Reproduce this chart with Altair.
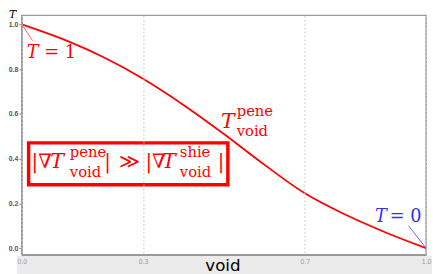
import altair as alt
import pandas as pd

# ---- data ----
void = [0.0, 0.1, 0.2, 0.3, 0.4, 0.5, 0.6, 0.7, 0.8, 0.9, 1.0]
T_pene = [1.0, 0.935, 0.855, 0.757, 0.64, 0.51, 0.373, 0.245, 0.15, 0.07, 0.0]

x_ticks = [0.0, 0.3, 0.7, 1.0]
y_ticks = [0.0, 0.2, 0.4, 0.6, 0.8, 1.0]

RED = "#ff0000"
BLUE = "#3333ee"
SERIF = "DejaVu Serif"

# annotation texts (text, x, y, size, color) in data units
italic_txt = [
    ("T", 0.0121, 0.8486, 18, RED),
    ("T", 0.8738, 0.1179, 18, BLUE),
    ("T", 0.4927, 0.5354, 21, RED),
    ("T", 0.0704, 0.3571, 21, RED),
    ("T", 0.3470, 0.3571, 21, RED),
]
upright_txt = [
    ("= 1", 0.0558, 0.8486, 18, RED),
    ("= 0", 0.9102, 0.1179, 18, BLUE),
    ("pene", 0.5316, 0.5920, 15, RED),
    ("void", 0.5316, 0.5006, 15, RED),
    ("|∇", 0.0243, 0.3571, 20, RED),
    ("pene", 0.1190, 0.4093, 15, RED),
    ("void", 0.1190, 0.3179, 15, RED),
    ("|", 0.2040, 0.3571, 20, RED),
    ("≫", 0.2403, 0.3571, 20, RED),
    ("|∇", 0.3058, 0.3571, 20, RED),
    ("shie", 0.3910, 0.4093, 15, RED),
    ("void", 0.3910, 0.3179, 15, RED),
    ("|", 0.4850, 0.3571, 20, RED),
]
connectors = [
    (0.0, 1.0, 0.0267, 0.9269, "#ff6666"),
    (0.9563, 0.1005, 1.0, 0.0, "#6666ff"),
]
box = [(0.0170, 0.4702, 0.5097, 0.2832)]

cols = ["text", "x", "y", "size", "color"]
df_curve = pd.DataFrame({"x": void, "y": T_pene})
df_it = pd.DataFrame(italic_txt, columns=cols)
df_up = pd.DataFrame(upright_txt, columns=cols)
df_conn = pd.DataFrame(connectors, columns=["x", "y", "x2", "y2", "color"])
df_box = pd.DataFrame(box, columns=["x", "y", "x2", "y2"])

xs = alt.Scale(domain=[0, 1], nice=False, zero=False)
ys = alt.Scale(domain=[-0.03, 1.04], nice=False, zero=False)

xaxis = alt.Axis(
    values=x_ticks, format=".1f", title=None, ticks=False,
    labelFontSize=7, labelColor="#999999", labelPadding=3, labelFlush=False,
    grid=True, gridDash=[2, 2], gridColor="#cccccc",
    domainColor="#999999", domainWidth=1.5, zindex=1)
yaxis = alt.Axis(
    values=y_ticks, format=".1f", title=None, grid=False,
    labelFontSize=7, labelColor="#555555", labelFontWeight="bold",
    labelPadding=1, tickSize=3, tickColor="#888888",
    domainColor="#999999", domainWidth=1.5)

X = alt.X("x:Q", scale=xs, axis=xaxis)
Y = alt.Y("y:Q", scale=ys, axis=yaxis)

band = alt.Chart(alt.Data(values=[{}])).mark_rect(color="#ebebeb").encode(
    x=alt.value(-5), x2=alt.value(418), y=alt.value(245), y2=alt.value(270)
)

curve = alt.Chart(df_curve).mark_line(
    color=RED, strokeWidth=1.8, interpolate="monotone"
).encode(x=X, y=Y)

conn = alt.Chart(df_conn).mark_rule(strokeWidth=1).encode(
    x=X, y=Y, x2="x2:Q", y2="y2:Q", color=alt.Color("color:N", scale=None),
)

boxl = alt.Chart(df_box).mark_rect(
    fill=None, fillOpacity=0, stroke=RED, strokeWidth=3.5
).encode(x=X, y=Y, x2="x2:Q", y2="y2:Q")

def text_layer(df, style):
    return alt.Chart(df).mark_text(
        align="left", baseline="alphabetic", font=SERIF, fontStyle=style
    ).encode(
        x=X, y=Y, text="text:N", size=alt.Size("size:Q", scale=None),
        color=alt.Color("color:N", scale=None),
    )

t_it = text_layer(df_it, "italic")
t_up = text_layer(df_up, "normal")

y_title = alt.Chart(alt.Data(values=[{}])).mark_text(
    text="T", font=SERIF, fontStyle="italic", fontSize=11, color="#000000",
    align="left", baseline="alphabetic"
).encode(x=alt.value(-13), y=alt.value(3))

x_title = alt.Chart(alt.Data(values=[{}])).mark_text(
    text="void", font="DejaVu Sans", fontSize=17, color="#000000",
    align="center", baseline="alphabetic"
).encode(x=alt.value(205), y=alt.value(260))

chart = alt.layer(band, curve, conn, boxl, t_it, t_up, y_title, x_title).properties(
    width=412, height=244,
    autosize=alt.AutoSizeParams(type="none"),
    padding={"left": 14, "top": 5, "right": 6, "bottom": 17},
).configure_view(stroke="#999999", strokeWidth=1.5)

chart.save("out.html", embed_options={"renderer": "svg", "actions": False})
